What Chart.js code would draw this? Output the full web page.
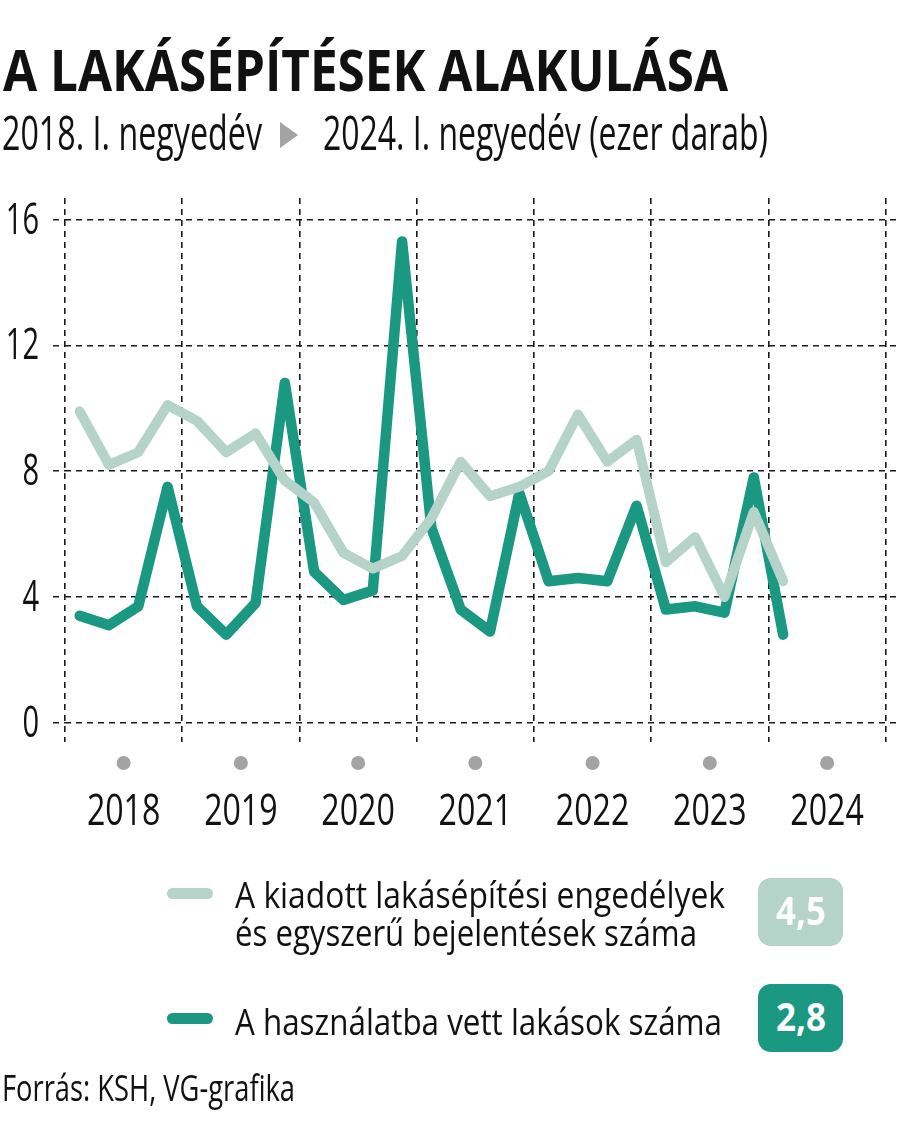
<!DOCTYPE html>
<html lang="hu">
<head>
<meta charset="utf-8">
<title>A lakásépítések alakulása</title>
<script src="https://cdn.jsdelivr.net/npm/chart.js@4.4.1/dist/chart.umd.min.js"></script>
<style>
  html, body { margin: 0; padding: 0; background: #fff; }
  #wrap { position: relative; width: 900px; height: 1134px; overflow: hidden; background: #fff; }
  #c { position: absolute; left: 0; top: 0; }
  .t { position: absolute; white-space: nowrap; font-family: "Open Sans", "Noto Sans", sans-serif; color: #111; transform-origin: 0 0; }
  .sw { position: absolute; height: 11px; border-radius: 6px; }
  .badge { position: absolute; width: 85px; height: 68px; border-radius: 13px; }
  .badge span { position: absolute; white-space: nowrap; color: #fff; font-family: "Open Sans", sans-serif; font-weight: 700; transform-origin: 0 0; }
  #tri { position: absolute; left: 280px; top: 122px; width: 0; height: 0; border-left: 18px solid #a3a3a3; border-top: 13px solid transparent; border-bottom: 13px solid transparent; }
</style>
</head>
<body>
<div id="wrap">
  <canvas id="c" width="900" height="1134"></canvas>
  <div class="t" id="title" style="font-weight:700">A LAKÁSÉPÍTÉSEK ALAKULÁSA</div>
  <div class="t" id="sub1">2018. I. negyedév</div>
  <div id="tri"></div>
  <div class="t" id="sub2">2024. I. negyedév (ezer darab)</div>
  <div class="sw" id="sw1" style="left:167px;top:888px;width:46px;"></div>
  <div class="sw" id="sw2" style="left:167px;top:1013px;width:46px;"></div>
  <div class="t" id="leg1a">A kiadott lakásépítési engedélyek</div>
  <div class="t" id="leg1b">és egyszerű bejelentések száma</div>
  <div class="t" id="leg2">A használatba vett lakások száma</div>
  <div class="badge" id="b1" style="left:758px;top:878px;"><span id="b1t"></span></div>
  <div class="badge" id="b2" style="left:758px;top:984px;"><span id="b2t"></span></div>
  <div class="t" id="src">Forrás: KSH, VG-grafika</div>
</div>
<script>
// ---------------- DATA ----------------
const years = ['2018', '2019', '2020', '2021', '2022', '2023', '2024'];
const quarters = [
  '2018 I.', '2018 II.', '2018 III.', '2018 IV.',
  '2019 I.', '2019 II.', '2019 III.', '2019 IV.',
  '2020 I.', '2020 II.', '2020 III.', '2020 IV.',
  '2021 I.', '2021 II.', '2021 III.', '2021 IV.',
  '2022 I.', '2022 II.', '2022 III.', '2022 IV.',
  '2023 I.', '2023 II.', '2023 III.', '2023 IV.',
  '2024 I.'
];
// A kiadott lakásépítési engedélyek és egyszerű bejelentések száma (ezer)
const permits = [9.9, 8.2, 8.6, 10.1, 9.6, 8.6, 9.2, 7.7, 7.0, 5.4, 4.9, 5.3, 6.5, 8.3, 7.2, 7.5, 8.0, 9.8, 8.3, 9.0, 5.1, 5.9, 4.0, 6.7, 4.5];
// A használatba vett lakások száma (ezer)
const completed = [3.4, 3.1, 3.7, 7.5, 3.7, 2.8, 3.8, 10.8, 4.8, 3.9, 4.2, 15.3, 6.2, 3.6, 2.9, 7.3, 4.5, 4.6, 4.5, 6.9, 3.6, 3.7, 3.5, 7.8, 2.8];
const seriesNames = ['A kiadott lakásépítési engedélyek és egyszerű bejelentések száma', 'A használatba vett lakások száma'];
const yTicks = [0, 4, 8, 12, 16];

// ---------------- STYLE ----------------
const LIGHT = '#b5d3c9';
const DARK = '#1a9882';
const GRID = '#1a1a1a';
const QPY = 4; // quarters per year

// quarter position: centre of each quarter slot
const toPoints = arr => arr.map((v, i) => ({ x: i + 0.5, y: v }));
const yearBounds = years.map((_, i) => i * QPY).concat([years.length * QPY]);
const yearCentres = years.map((_, i) => i * QPY + QPY / 2);

const tickTextPlugin = {
  id: 'tickText',
  afterDraw(chart) {
    const ctx = chart.ctx;
    const ys = chart.scales.y;
    const xs = chart.scales.xYear;
    ctx.save();
    ctx.font = '44px "Open Sans", "Noto Sans", sans-serif';
    ctx.textBaseline = 'alphabetic';
    ctx.fillStyle = '#111';
    ctx.textAlign = 'right';
    ys.ticks.forEach(t => {
      const y = ys.getPixelForValue(t.value);
      ctx.save();
      ctx.translate(39, y + 14);
      ctx.scale(0.66, 1);
      ctx.fillText(t.label, 0, 0);
      ctx.restore();
    });
    xs.ticks.forEach(t => {
      const x = xs.getPixelForValue(t.value);
      ctx.beginPath();
      ctx.arc(x, 763, 7, 0, Math.PI * 2);
      ctx.fillStyle = '#a3a3a3';
      ctx.fill();
      ctx.fillStyle = '#111';
      ctx.textAlign = 'center';
      ctx.save();
      ctx.translate(x, 825);
      ctx.scale(0.73, 1);
      ctx.fillText(t.label, 0, 0);
      ctx.restore();
    });
    ctx.restore();
  }
};

new Chart(document.getElementById('c'), {
  type: 'line',
  data: {
    datasets: [
      { label: seriesNames[0], data: toPoints(permits), borderColor: LIGHT, backgroundColor: LIGHT,
        borderWidth: 10, pointRadius: 0, borderJoinStyle: 'round', borderCapStyle: 'round', tension: 0 },
      { label: seriesNames[1], data: toPoints(completed), borderColor: DARK, backgroundColor: DARK,
        borderWidth: 10.5, pointRadius: 0, borderJoinStyle: 'round', borderCapStyle: 'round', tension: 0 }
    ]
  },
  options: {
    responsive: false,
    animation: false,
    devicePixelRatio: 1,
    layout: { padding: { left: 53, right: 0, top: 198, bottom: 392 } },
    plugins: { legend: { display: false }, tooltip: { enabled: false } },
    scales: {
      x: {
        type: 'linear', min: 0, max: 28.488,
        afterBuildTicks: s => { s.ticks = yearBounds.map(v => ({ value: v })); },
        ticks: { display: false },
        grid: { color: GRID, lineWidth: 1.6, drawTicks: false },
        border: { display: false, dash: [6, 5] }
      },
      xYear: {
        type: 'linear', position: 'bottom', min: 0, max: 28.488,
        afterBuildTicks: s => { s.ticks = yearCentres.map(v => ({ value: v })); },
        ticks: { display: false, callback: (v, i) => years[i] },
        grid: { display: false, drawTicks: false },
        border: { display: false }
      },
      y: {
        type: 'linear', min: -0.614, max: 16.684,
        afterBuildTicks: s => { s.ticks = yTicks.map(v => ({ value: v })); },
        ticks: { display: false, callback: v => String(v) },
        grid: { color: GRID, lineWidth: 1.6, drawTicks: true, tickLength: 12,
                tickColor: GRID, tickWidth: 1.6, tickBorderDash: [6, 5] },
        border: { display: false, dash: [6, 5] }
      }
    }
  },
  plugins: [tickTextPlugin]
});

// ---------------- TEXT LAYOUT ----------------
function place(id, left, baseline, size, width) {
  const el = document.getElementById(id);
  el.style.fontSize = size + 'px';
  el.style.lineHeight = size + 'px';
  el.style.left = left + 'px';
  el.style.top = (baseline - 0.888 * size) + 'px';
  const w = el.getBoundingClientRect().width;
  el.style.transform = 'scaleX(' + (width / w) + ')';
}
place('title', 3, 92, 58, 725);
place('sub1', 2, 151, 47, 260);
place('sub2', 323, 151, 47, 445);
place('leg1a', 235, 908, 37, 490);
place('leg1b', 235, 946, 37, 462);
place('leg2', 235, 1035, 37, 487);
place('src', 2, 1102, 36, 293);

document.getElementById('sw1').style.background = LIGHT;
document.getElementById('sw2').style.background = DARK;
document.getElementById('b1').style.background = LIGHT;
document.getElementById('b2').style.background = DARK;
const fmt = v => v.toFixed(1).replace('.', ',');
function badge(id, value) {
  const el = document.getElementById(id);
  el.textContent = fmt(value);
  const size = 40;
  el.style.fontSize = size + 'px';
  el.style.lineHeight = size + 'px';
  const w = el.getBoundingClientRect().width;
  const sx = 50 / w;
  el.style.left = ((85 - 50) / 2) + 'px';
  el.style.top = (48 - 0.888 * size) + 'px';
  el.style.transform = 'scaleX(' + sx + ')';
}
badge('b1t', permits[permits.length - 1]);
badge('b2t', completed[completed.length - 1]);
</script>
</body>
</html>
